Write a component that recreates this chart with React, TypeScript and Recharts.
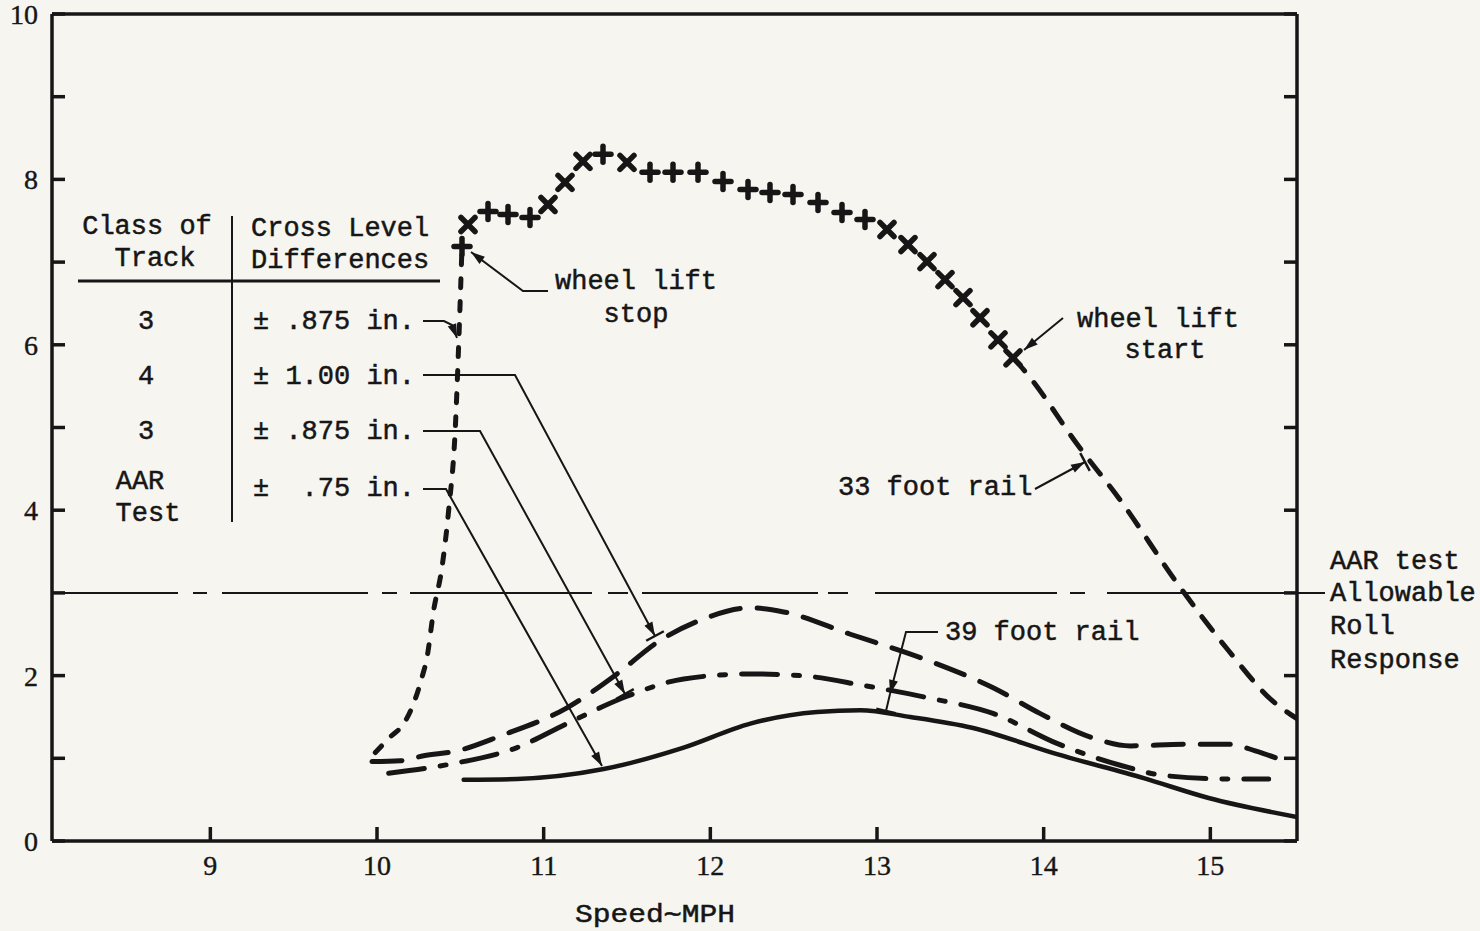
import { ComposedChart, Line, Scatter, XAxis, YAxis, ReferenceLine } from 'recharts';

const INK = '#161616';
const PAPER = '#f6f5f0';
const FONT = '"Liberation Mono", "DejaVu Sans Mono", monospace';
const NUM_FONT = '"Liberation Serif", "DejaVu Serif", serif';

const W = 1480;
const H = 931;

// axes
const X_DOMAIN = [8.05, 15.52];
const X_TICKS = [9, 10, 11, 12, 13, 14, 15];
const Y_TICKS = [0, 1, 2, 3, 4, 5, 6, 7, 8, 9, 10];
const AAR_LIMIT = 3;

// 33 foot rail, rising branch (up to wheel lift stop)
const RAIL33_RISE_X = [9.99, 10.07, 10.17, 10.23, 10.27, 10.3, 10.34, 10.39, 10.43, 10.47, 10.49, 10.51];
const RAIL33_RISE_Y = [1.07, 1.24, 1.45, 1.72, 1.98, 2.22, 2.79, 3.31, 4.0, 5.0, 6.0, 7.19];

// 33 foot rail, falling branch (after wheel lift start)
const RAIL33_FALL_X = [13.82, 13.92, 14.2, 14.46, 14.8, 15.11, 15.37, 15.52];
const RAIL33_FALL_Y = [5.84, 5.6, 4.8, 4.12, 3.12, 2.3, 1.7, 1.48];

// wheel lift points (marked with + and x)
const LIFT_X = [10.51, 10.546, 10.666, 10.786, 10.918, 11.026, 11.128, 11.236, 11.356, 11.5, 11.638, 11.776, 11.926, 12.076, 12.226, 12.358, 12.496, 12.646, 12.79, 12.928, 13.06, 13.186, 13.3, 13.408, 13.516, 13.618, 13.726, 13.816];
const LIFT_Y = [7.19, 7.455, 7.612, 7.576, 7.539, 7.697, 7.964, 8.218, 8.303, 8.206, 8.085, 8.085, 8.085, 7.976, 7.879, 7.842, 7.818, 7.721, 7.6, 7.515, 7.394, 7.212, 7.006, 6.788, 6.57, 6.327, 6.06, 5.842];
const LIFT_KIND = ['+', 'x', '+', '+', '+', 'x', 'x', 'x', '+', 'x', '+', '+', '+', '+', '+', '+', '+', '+', '+', '+', 'x', 'x', 'x', 'x', 'x', 'x', 'x', 'x'];

// class 4, +/- 1.00 in. (long dash)
const CL4_X = [9.97, 10.14, 10.28, 10.48, 10.74, 11.14, 11.44, 11.68, 11.94, 12.24, 12.44, 12.84, 13.31, 13.7, 13.98, 14.29, 14.52, 14.85, 15.11, 15.27, 15.4];
const CL4_Y = [0.96, 0.97, 1.03, 1.09, 1.27, 1.61, 2.02, 2.4, 2.67, 2.82, 2.77, 2.5, 2.18, 1.85, 1.54, 1.25, 1.15, 1.17, 1.17, 1.09, 1.0];

// class 3, +/- .875 in. (dash dot)
const CL3_X = [10.07, 10.44, 10.84, 11.14, 11.5, 11.84, 12.24, 12.54, 12.92, 13.31, 13.7, 14.08, 14.47, 14.73, 15.11, 15.35];
const CL3_Y = [0.82, 0.93, 1.13, 1.42, 1.75, 1.96, 2.02, 2.0, 1.88, 1.73, 1.54, 1.18, 0.91, 0.79, 0.75, 0.75];

// AAR test, +/- .75 in. (solid)
const AAR_X = [10.52, 10.84, 11.36, 11.84, 12.24, 12.64, 12.9, 13.2, 13.57, 14.08, 14.6, 14.99, 15.52];
const AAR_Y = [0.74, 0.75, 0.87, 1.13, 1.42, 1.56, 1.58, 1.5, 1.37, 1.05, 0.76, 0.52, 0.29];

const toPts = (xs: number[], ys: number[]) => xs.map((x, i) => ({ x, y: ys[i] }));

const txt = { fontFamily: FONT, fill: INK, stroke: INK, strokeWidth: 0.5 };
const num = { fontFamily: NUM_FONT, fill: INK, stroke: INK, strokeWidth: 0.4 };

const BottomTick = ({ x, y, payload }: any) => (
  <g>
    <line x1={x} y1={y} x2={x} y2={y - 14} stroke={INK} strokeWidth={3.5} />
    <text x={x} y={y + 34} textAnchor="middle" fontSize={28} {...num}>
      {payload.value}
    </text>
  </g>
);

const TopTick = ({ x, y }: any) => (
  <line x1={x} y1={y} x2={x} y2={y + 15} stroke={INK} strokeWidth={3.5} />
);

const LeftTick = ({ x, y, payload }: any) => (
  <g>
    <line x1={x} y1={y} x2={x + 13} y2={y} stroke={INK} strokeWidth={3.5} />
    {payload.value % 2 === 0 && (
      <text x={x - 14} y={y + 10} textAnchor="end" fontSize={28} {...num}>
        {payload.value}
      </text>
    )}
  </g>
);

const RightTick = ({ x, y }: any) => (
  <line x1={x} y1={y} x2={x - 13} y2={y} stroke={INK} strokeWidth={3.5} />
);

const LiftMark = (props: any) => {
  const { cx, cy, payload } = props;
  if (cx == null || cy == null) return null;
  if (payload.kind === 'x') {
    const r = 7;
    return (
      <g stroke={INK} strokeWidth={5.5} strokeLinecap="round">
        <line x1={cx - r} y1={cy - r} x2={cx + r} y2={cy + r} />
        <line x1={cx - r} y1={cy + r} x2={cx + r} y2={cy - r} />
      </g>
    );
  }
  const r = 8;
  return (
    <g stroke={INK} strokeWidth={5.5} strokeLinecap="round">
      <line x1={cx - r} y1={cy} x2={cx + r} y2={cy} />
      <line x1={cx} y1={cy - r} x2={cx} y2={cy + r} />
    </g>
  );
};

type P = [number, number];

// leader line with arrowhead and optional cross bar at the tip
const Leader = ({ pts, head = true, bar = false }: { pts: P[]; head?: boolean; bar?: boolean }) => {
  const [x2, y2] = pts[pts.length - 1];
  const [x1, y1] = pts[pts.length - 2];
  const len = Math.hypot(x2 - x1, y2 - y1);
  const ux = (x2 - x1) / len;
  const uy = (y2 - y1) / len;
  const nx = -uy;
  const ny = ux;
  const hl = 14;
  const hw = 4.5;
  return (
    <g>
      <polyline points={pts.map((p) => p.join(',')).join(' ')} fill="none" stroke={INK} strokeWidth={2} />
      {head && (
        <polygon
          points={`${x2},${y2} ${x2 - ux * hl + nx * hw},${y2 - uy * hl + ny * hw} ${x2 - ux * hl - nx * hw},${y2 - uy * hl - ny * hw}`}
          fill={INK}
        />
      )}
      {bar && (
        <line x1={x2 + nx * 10} y1={y2 + ny * 10} x2={x2 - nx * 10} y2={y2 - ny * 10} stroke={INK} strokeWidth={2.5} />
      )}
    </g>
  );
};

const LABELS: { t: string; x: number; y: number; a?: 'start' | 'middle' | 'end' }[] = [
  { t: 'Class of', x: 147, y: 234, a: 'middle' },
  { t: 'Track', x: 155, y: 266, a: 'middle' },
  { t: 'Cross Level', x: 251, y: 236 },
  { t: 'Differences', x: 251, y: 268 },
  { t: '3', x: 146, y: 329, a: 'middle' },
  { t: '4', x: 146, y: 384, a: 'middle' },
  { t: '3', x: 146, y: 439, a: 'middle' },
  { t: 'AAR', x: 140, y: 489, a: 'middle' },
  { t: 'Test', x: 148, y: 521, a: 'middle' },
  { t: '± .875 in.', x: 253, y: 329 },
  { t: '± 1.00 in.', x: 253, y: 384 },
  { t: '± .875 in.', x: 253, y: 439 },
  { t: '±  .75 in.', x: 253, y: 496 },
  { t: 'wheel lift', x: 555, y: 289 },
  { t: 'stop', x: 636, y: 322, a: 'middle' },
  { t: 'wheel lift', x: 1077, y: 327 },
  { t: 'start', x: 1165, y: 358, a: 'middle' },
  { t: '33 foot rail', x: 838, y: 495 },
  { t: '39 foot rail', x: 945, y: 640 },
  { t: 'AAR test', x: 1330, y: 569 },
  { t: 'Allowable', x: 1330, y: 601 },
  { t: 'Roll', x: 1330, y: 634 },
  { t: 'Response', x: 1330, y: 668 },
];

const Annotations = () => (
  <svg width={W} height={H} style={{ position: 'absolute', left: 0, top: 0, pointerEvents: 'none' }}>
    {/* table rules */}
    <line x1={78} y1={281} x2={440} y2={281} stroke={INK} strokeWidth={3} />
    <line x1={232} y1={216} x2={232} y2={522} stroke={INK} strokeWidth={2} />
    {LABELS.map((l, i) => (
      <text
        key={i}
        x={l.x}
        y={l.y}
        textAnchor={l.a || 'start'}
        fontSize={27}
        {...txt}
        style={{ whiteSpace: 'pre' }}
      >
        {l.t}
      </text>
    ))}
    <Leader pts={[[423, 321], [444, 321], [452, 325], [457, 338]]} />
    <Leader pts={[[423, 375], [515, 375], [655, 636]]} bar />
    <Leader pts={[[423, 431], [480, 431], [625, 694]]} bar />
    <Leader pts={[[423, 489], [446, 489], [602, 766]]} />
    <Leader pts={[[548, 291], [523, 291], [471, 252]]} />
    <Leader pts={[[1063, 318], [1024, 350]]} />
    <Leader pts={[[1035, 489], [1085, 462]]} bar />
    <Leader pts={[[938, 632], [906, 632], [890, 694]]} />
    <Leader pts={[[890, 694], [886, 711]]} head={false} bar />
    <text x={575} y={922} textLength={160} lengthAdjust="spacingAndGlyphs" fontSize={26} {...txt}>
      Speed∼MPH
    </text>
  </svg>
);

export default function App() {
  const rise33 = toPts(RAIL33_RISE_X, RAIL33_RISE_Y);
  const fall33 = toPts(RAIL33_FALL_X, RAIL33_FALL_Y);
  const cl4 = toPts(CL4_X, CL4_Y);
  const cl3 = toPts(CL3_X, CL3_Y);
  const aar = toPts(AAR_X, AAR_Y);
  const lift = LIFT_X.map((x, i) => ({ x, y: LIFT_Y[i], kind: LIFT_KIND[i] }));

  return (
    <div style={{ position: 'relative', width: W, height: H, background: PAPER }}>
      <style>{'body{margin:0}'}</style>
      <ComposedChart width={W} height={H} margin={{ top: 0, right: 0, bottom: 0, left: 0 }}>
        <XAxis
          xAxisId="b"
          dataKey="x"
          type="number"
          domain={X_DOMAIN}
          ticks={X_TICKS}
          interval={0}
          allowDataOverflow
          height={90}
          tickSize={0}
          tickMargin={0}
          tickLine={false}
          axisLine={{ stroke: INK, strokeWidth: 3.5 }}
          tick={BottomTick}
        />
        <XAxis
          xAxisId="t"
          orientation="top"
          type="number"
          domain={X_DOMAIN}
          ticks={X_TICKS}
          interval={0}
          allowDataOverflow
          height={14}
          tickSize={0}
          tickMargin={0}
          tickLine={false}
          axisLine={{ stroke: INK, strokeWidth: 3.5 }}
          tick={TopTick}
        />
        <YAxis
          yAxisId="l"
          type="number"
          domain={[0, 10]}
          ticks={Y_TICKS}
          interval={0}
          allowDataOverflow
          width={52}
          tickSize={0}
          tickMargin={0}
          tickLine={false}
          axisLine={{ stroke: INK, strokeWidth: 3.5 }}
          tick={LeftTick}
        />
        <YAxis
          yAxisId="r"
          orientation="right"
          type="number"
          domain={[0, 10]}
          ticks={Y_TICKS}
          interval={0}
          allowDataOverflow
          width={183}
          tickSize={0}
          tickMargin={0}
          tickLine={false}
          axisLine={{ stroke: INK, strokeWidth: 3.5 }}
          tick={RightTick}
        />
        {/* hand drawn long/short dash pattern of the allowable roll line */}
        <ReferenceLine
          xAxisId="b"
          yAxisId="l"
          segment={[{ x: X_DOMAIN[0], y: AAR_LIMIT }, { x: 15.69, y: AAR_LIMIT }]}
          ifOverflow="visible"
          stroke={INK}
          strokeWidth={2}
          strokeDasharray="126 15 14 15 146 14 15 13 182 16 20 14 176 10 20 27 182 13 15 22 218 40"
        />
        <Line xAxisId="b" yAxisId="l" data={rise33} dataKey="y" type="monotone" stroke={INK} strokeWidth={5}
          strokeDasharray="9 14" strokeLinecap="round" dot={false} isAnimationActive={false} />
        <Line xAxisId="b" yAxisId="l" data={fall33} dataKey="y" type="monotone" stroke={INK} strokeWidth={5}
          strokeDasharray="17 15" strokeLinecap="round" dot={false} isAnimationActive={false} />
        <Line xAxisId="b" yAxisId="l" data={cl4} dataKey="y" type="monotone" stroke={INK} strokeWidth={5}
          strokeDasharray="30 17" strokeLinecap="round" dot={false} isAnimationActive={false} />
        <Line xAxisId="b" yAxisId="l" data={cl3} dataKey="y" type="monotone" stroke={INK} strokeWidth={5}
          strokeDasharray="36 16 6 16" strokeLinecap="round" dot={false} isAnimationActive={false} />
        <Line xAxisId="b" yAxisId="l" data={aar} dataKey="y" type="monotone" stroke={INK} strokeWidth={4.5}
          strokeLinecap="round" dot={false} isAnimationActive={false} />
        <Scatter xAxisId="b" yAxisId="l" data={lift} dataKey="y" shape={LiftMark} isAnimationActive={false} />
      </ComposedChart>
      <Annotations />
    </div>
  );
}
